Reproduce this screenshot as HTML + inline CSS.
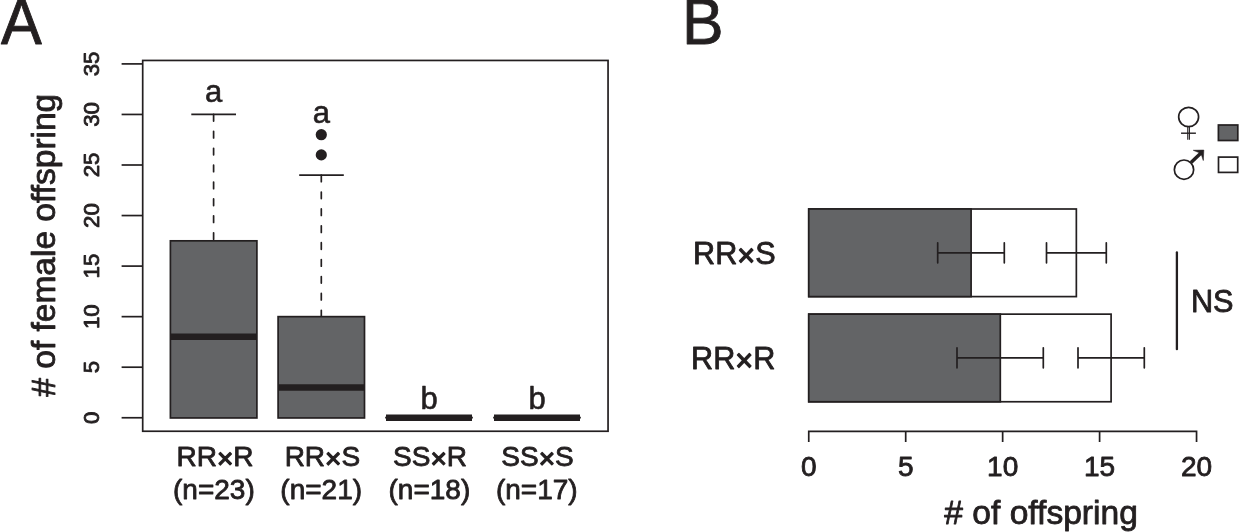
<!DOCTYPE html>
<html lang="en">
<head>
<meta charset="utf-8">
<title>Figure</title>
<style>
html,body{margin:0;padding:0;background:#fff;}
body{width:1239px;height:532px;overflow:hidden;}
svg{display:block;}
text{font-family:"Liberation Sans",Arial,Helvetica,sans-serif;fill:#231f20;stroke:#231f20;stroke-width:0.85;stroke-linejoin:round;}
.ln{stroke:#231f20;stroke-width:1.7;fill:none;}
.bx{stroke:#231f20;stroke-width:1.7;fill:#636466;}
.wb{stroke:#231f20;stroke-width:1.7;fill:#fff;}
.med{stroke:#231f20;stroke-width:6.5;fill:none;}
.tk{font-size:22.2px;stroke-width:0.5;text-anchor:middle;}
.cat{font-size:28px;stroke-width:0.55;text-anchor:middle;}
.mx{stroke-width:1.3;}
.let{font-size:31px;stroke-width:0.6;text-anchor:middle;}
</style>
</head>
<body>
<svg width="1239" height="532" viewBox="0 0 1239 532">
<rect x="0" y="0" width="1239" height="532" fill="#fff"/>

<!-- Panel A -->
<text transform="translate(0.9 43.7) scale(0.955 1)" font-size="64" stroke-width="0.95">A</text>
<rect class="ln" x="142.7" y="60.45" width="465.35" height="370.8"/>
<g class="ln">
<line x1="121.6" y1="63.9" x2="142.7" y2="63.9"/>
<line x1="121.6" y1="114.45" x2="142.7" y2="114.45"/>
<line x1="121.6" y1="165.0" x2="142.7" y2="165.0"/>
<line x1="121.6" y1="215.55" x2="142.7" y2="215.55"/>
<line x1="121.6" y1="266.1" x2="142.7" y2="266.1"/>
<line x1="121.6" y1="316.65" x2="142.7" y2="316.65"/>
<line x1="121.6" y1="367.2" x2="142.7" y2="367.2"/>
<line x1="121.6" y1="417.75" x2="142.7" y2="417.75"/>
</g>
<g class="tk">
<text transform="translate(98.7 63.9) rotate(-90)">35</text>
<text transform="translate(98.7 114.45) rotate(-90)">30</text>
<text transform="translate(98.7 165.0) rotate(-90)">25</text>
<text transform="translate(98.7 215.55) rotate(-90)">20</text>
<text transform="translate(98.7 266.1) rotate(-90)">15</text>
<text transform="translate(98.7 316.65) rotate(-90)">10</text>
<text transform="translate(98.7 367.2) rotate(-90)">5</text>
<text transform="translate(98.7 417.75) rotate(-90)">0</text>
</g>
<text transform="translate(54.6 245.2) rotate(-90)" font-size="33.5" stroke-width="0.85" text-anchor="middle"># of female offspring</text>

<!-- box 1 -->
<line class="ln" x1="213.6" y1="114.45" x2="213.6" y2="240.83" stroke-dasharray="6.6 10.3" stroke-linecap="round"/>
<line class="ln" x1="191.3" y1="114.45" x2="236" y2="114.45"/>
<rect class="bx" x="170.4" y="240.83" width="86.5" height="177.12"/>
<line class="med" x1="170.4" y1="336.87" x2="256.9" y2="336.87"/>
<text class="let" x="213.6" y="102.3">a</text>
<!-- box 2 -->
<line class="ln" x1="321.3" y1="175.11" x2="321.3" y2="316.65" stroke-dasharray="6.6 10.3" stroke-linecap="round"/>
<line class="ln" x1="299.2" y1="175.11" x2="343.8" y2="175.11"/>
<rect class="bx" x="278.1" y="316.65" width="86.4" height="101.3"/>
<line class="med" x1="278.1" y1="387.42" x2="364.5" y2="387.42"/>
<circle cx="321.3" cy="134.67" r="5.6" fill="#231f20"/>
<circle cx="321.3" cy="154.89" r="5.6" fill="#231f20"/>
<text class="let" x="321.3" y="122.9">a</text>
<!-- box 3, 4 -->
<line class="ln" x1="386" y1="417.65" x2="472" y2="417.65" stroke-linecap="square"/>
<line class="med" x1="386" y1="417.65" x2="472" y2="417.65"/>
<line class="ln" x1="494" y1="417.65" x2="580" y2="417.65" stroke-linecap="square"/>
<line class="med" x1="494" y1="417.65" x2="580" y2="417.65"/>
<text class="let" x="429.2" y="408.6">b</text>
<text class="let" x="537" y="408.6">b</text>

<g class="cat">
<text x="215" y="466">RR<tspan class="mx" dy="2.3">×</tspan><tspan dy="-2.3">R</tspan></text>
<text x="213.9" y="499.2">(n=23)</text>
<text x="322.4" y="466">RR<tspan class="mx" dy="2.3">×</tspan><tspan dy="-2.3">S</tspan></text>
<text x="321.2" y="499.2">(n=21)</text>
<text x="430" y="466">SS<tspan class="mx" dy="2.3">×</tspan><tspan dy="-2.3">R</tspan></text>
<text x="429.4" y="499.2">(n=18)</text>
<text x="537.5" y="466">SS<tspan class="mx" dy="2.3">×</tspan><tspan dy="-2.3">S</tspan></text>
<text x="536.8" y="499.2">(n=17)</text>
</g>

<!-- Panel B -->
<text transform="translate(681.9 43.7) scale(0.975 1)" font-size="64" stroke-width="0.95">B</text>

<g stroke-width="1.9">
<rect class="wb" x="808.75" y="209" width="267.6" height="87.6" stroke-width="1.9"/>
<rect class="bx" x="808.75" y="209" width="162.35" height="87.6" stroke-width="1.9"/>
<rect class="wb" x="808.75" y="314.15" width="302.35" height="87.6" stroke-width="1.9"/>
<rect class="bx" x="808.75" y="314.15" width="191.55" height="87.6" stroke-width="1.9"/>
</g>
<g class="ln" stroke-width="2.4" stroke-linecap="round">
<path d="M937.7 242.8V262.8M937.7 252.8H1004.3M1004.3 242.8V262.8"/>
<path d="M1046.5 242.8V262.8M1046.5 252.8H1106.3M1106.3 242.8V262.8"/>
<path d="M957 347.8V367.8M957 357.8H1043.3M1043.3 347.8V367.8"/>
<path d="M1078 347.8V367.8M1078 357.8H1144.3M1144.3 347.8V367.8"/>
<path d="M1176.9 252.4V349.2" stroke-width="2.3"/>
</g>
<g class="ln" stroke-width="1.9">
<path d="M808.75 442V431.35H1196.55V442M905.7 431.35V442M1002.65 431.35V442M1099.6 431.35V442"/>
</g>
<text x="734.3" y="263.9" font-size="30.6" text-anchor="middle">RR<tspan class="mx" dy="2.5">×</tspan><tspan dy="-2.5">S</tspan></text>
<text x="733.2" y="368.9" font-size="30.6" text-anchor="middle">RR<tspan class="mx" dy="2.5">×</tspan><tspan dy="-2.5">R</tspan></text>
<text x="1212.2" y="312.2" font-size="30.7" text-anchor="middle">NS</text>
<g class="cat">
<text x="808.75" y="476.2">0</text>
<text x="905.7" y="476.2">5</text>
<text x="1002.65" y="476.2">10</text>
<text x="1099.6" y="476.2">15</text>
<text x="1196.55" y="476.2">20</text>
</g>
<text x="1041.1" y="523.8" font-size="33.6" stroke-width="0.85" text-anchor="middle"># of offspring</text>

<!-- legend -->
<rect class="bx" x="1218.4" y="125" width="19.4" height="15.5"/>
<rect class="wb" x="1218.5" y="157.1" width="19.2" height="15.3" stroke-width="2"/>
<!-- female -->
<g class="ln" stroke-width="1.5">
<ellipse cx="1188.63" cy="117" rx="9.95" ry="9.65"/>
<path d="M1187.75 126.6V139.7M1189.4 126.6V139.7" stroke-width="1.1"/>
<path d="M1181.05 133.2H1195.9" stroke-width="1.4"/>
</g>
<!-- male -->
<g class="ln" stroke-width="1.5">
<circle cx="1184" cy="169.65" r="9.65"/>
<path d="M1191.0 162.6L1201.0 153.1" stroke-width="3.5"/>
<path d="M1203.8 150.1L1193.3 150.3L1198.9 152.6L1201.5 154.9L1203.3 160.5Z" fill="#231f20" stroke-width="0.6" stroke-linejoin="round"/>
</g>
</svg>
</body>
</html>
